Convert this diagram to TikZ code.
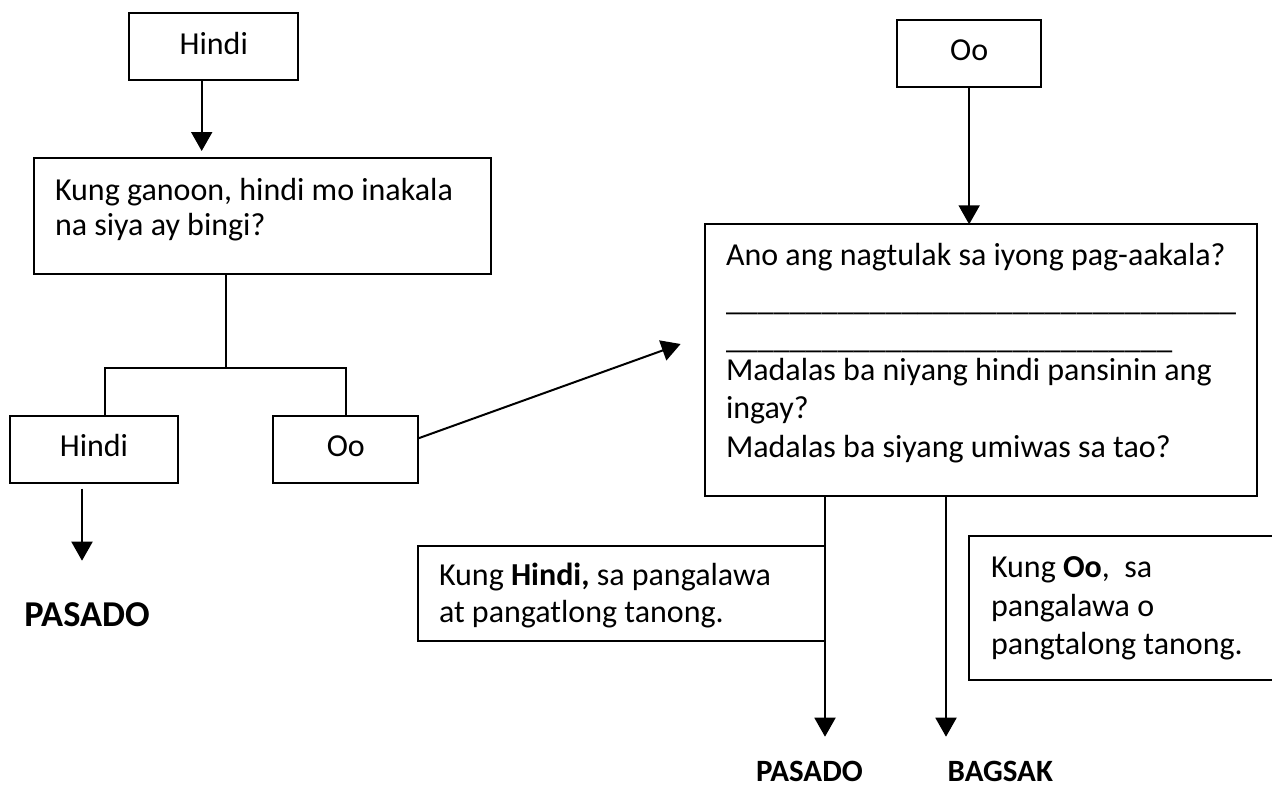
\documentclass[tikz,border=0pt]{standalone}
\usepackage{fontspec}
\setmainfont{Carlito}
\usetikzlibrary{arrows.meta}

\newcommand{\blank}[1]{\raisebox{-7pt}{\foreach \k in {1,...,#1}{\_}}}

\tikzset{
  box/.style={draw, outer sep=0pt, inner ysep=0pt, align=flush left, anchor=north west},
  yesno/.style={box, inner xsep=0pt, align=flush center, text width=#1,
    text height=40.7pt, text depth=26pt},
  result/.style={anchor=base west, inner sep=0pt, font=\fontsize{31pt}{36pt}\selectfont\bfseries}
}

\begin{document}
\begin{tikzpicture}[x=1pt, y=-1pt, line width=2pt, >={Triangle[width=21pt,length=19pt]},
    font=\fontsize{32pt}{38.4pt}\selectfont]
    \useasboundingbox (0,0) rectangle (1272,787);

    \node[yesno=169pt] (hindiTop) at (129.3,13.3) {Hindi};
    \node[box, inner xsep=21.3pt, text width=414.7pt, text height=42.3pt, text depth=74pt,
        font=\fontsize{32pt}{35pt}\selectfont] (q1) at (33.7,157.7)
        {Kung ganoon, hindi mo inakala\\ na siya ay bingi?};
    \node[yesno=168pt] (hindiL) at (10,416) {Hindi};
    \node[yesno=145pt] (ooL) at (273.3,416) {Oo};
    \node[anchor=base west, inner sep=0pt, font=\fontsize{36.4pt}{42pt}\selectfont\bfseries]
        (pasadoL) at (23.3,626) {PASADO};

    \node[yesno=143.7pt] (ooTop) at (897.3,20) {Oo};
    \node[box, inner xsep=21pt, text width=510pt, text height=40.7pt, text depth=230.7pt] (q2)
        at (705,224.3)
        {Ano ang nagtulak sa iyong pag-aakala?\\ \blank{32}\\ \blank{28}\\
         Madalas ba niyang hindi pansinin ang\\ ingay?\\ Madalas ba siyang umiwas sa tao?};
    \node[box, inner xsep=21.2pt, text width=364.8pt, text height=39.3pt, text depth=56pt,
        font=\fontsize{32pt}{37pt}\selectfont] (khindi) at (417.8,545.7)
        {Kung \textbf{Hindi,} sa pangalawa\\ at pangatlong tanong.};
    \node[box, inner xsep=21.6pt, text width=300pt, text height=41.5pt, text depth=102.5pt,
        font=\fontsize{32pt}{38.7pt}\selectfont] (koo) at (969.4,536)
        {Kung \textbf{Oo}, \ sa\\ pangalawa o\\ pangtalong tanong.};
    \node[result] (pasadoR) at (755,781.5) {PASADO};
    \node[result] (bagsak) at (946.7,781.5) {BAGSAK};

    \coordinate (fork) at (226,368);

    \draw[->, shorten >=6.7pt] ([xshift=-12.1pt]hindiTop.south) -- ([xshift=-12.1pt]hindiTop.south |- q1.north);
    \draw (q1.south -| fork) -- (fork);
    \draw ([xshift=11.3pt]hindiL.north) |- (fork) -| (ooL.north);
    \draw[->] ([xshift=-12pt,yshift=-6pt]hindiL.south) -- ++(0,72);
    \draw[->] ([yshift=11pt]ooL.east) -- ([xshift=-24.4pt,yshift=16pt]q2.west);
    \draw[->] (ooTop.south) -- (ooTop.south |- q2.north);
    \draw[->] (q2.south -| khindi.east) -- ++(0,241);
    \draw[->] ([xshift=-35pt]q2.south) -- ++(0,241);
\end{tikzpicture}
\end{document}
